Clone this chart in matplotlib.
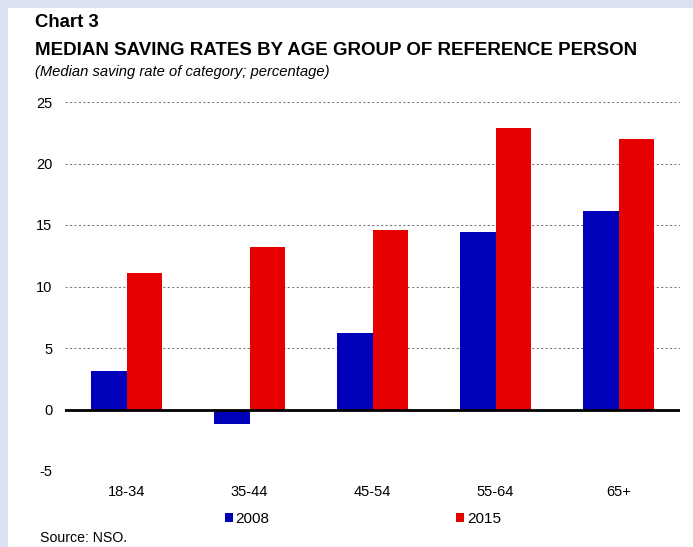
import matplotlib
matplotlib.use("Agg")
import matplotlib.pyplot as plt
import numpy as np
from matplotlib.patches import Rectangle

plt.rcParams['font.family'] = ['Liberation Sans', 'DejaVu Sans']

categories = ["18-34", "35-44", "45-54", "55-64", "65+"]
series_names = ["2008", "2015"]
values_2008 = [3.1, -1.2, 6.2, 14.4, 16.1]
values_2015 = [11.1, 13.2, 14.6, 22.9, 22.0]
yticks = [-5, 0, 5, 10, 15, 20, 25]

c_blue = "#0000BB"
c_red = "#E60000"

fig = plt.figure(figsize=(6.93, 5.47), dpi=100)
fig.patch.set_facecolor("#DAE2EF")
fig.patches.append(Rectangle((8/693, 0), 1, 1 - 8/547, transform=fig.transFigure,
                             facecolor="white", edgecolor="none", zorder=-10))

ax = fig.add_axes([65/693, 1 - 471/547, (680-65)/693, (471-102)/547])
ax.set_zorder(1)
ax.set_facecolor("none")
x = np.arange(len(categories))
w = 0.285
ax.bar(x - w/2, values_2008, width=w, color=c_blue, label=series_names[0], zorder=3)
ax.bar(x + w/2, values_2015, width=w, color=c_red, label=series_names[1], zorder=3)
ax.set_xlim(-0.5, len(categories) - 0.5)
ax.set_ylim(-5, 25)
ax.set_yticks(yticks)
ax.set_yticklabels([str(t) for t in yticks], fontsize=10.5)
ax.set_xticks(x)
ax.set_xticklabels(categories, fontsize=10.5)
ax.tick_params(axis='y', length=0, pad=9)
ax.tick_params(axis='x', length=0, pad=10)
for s in ax.spines.values():
    s.set_visible(False)
ax.yaxis.grid(True, linestyle=(0, (2, 2)), color="#808080", linewidth=0.8, zorder=0)
ax.axhline(0, color="black", linewidth=2, zorder=4)

fig.text(35/693, 1 - 27/547, "Chart 3", fontsize=13.3, fontweight="bold", va="baseline")
fig.text(35/693, 1 - 55/547, "MEDIAN SAVING RATES BY AGE GROUP OF REFERENCE PERSON",
         fontsize=13.5, fontweight="bold", va="baseline")
fig.text(35/693, 1 - 76/547, "(Median saving rate of category; percentage)",
         fontsize=10.6, fontstyle="italic", va="baseline")
fig.text(40/693, 1 - 542/547, "Source: NSO.", fontsize=10.2, va="baseline")

leg = fig.legend(loc="center left", bbox_to_anchor=(225/693, 1 - 519/547), ncol=2,
                 frameon=False, fontsize=11, handlelength=0.55, handleheight=0.55,
                 handletextpad=0.15, columnspacing=12.2, borderaxespad=0, borderpad=0)

fig.savefig("out.png", dpi=100, facecolor=fig.get_facecolor())
